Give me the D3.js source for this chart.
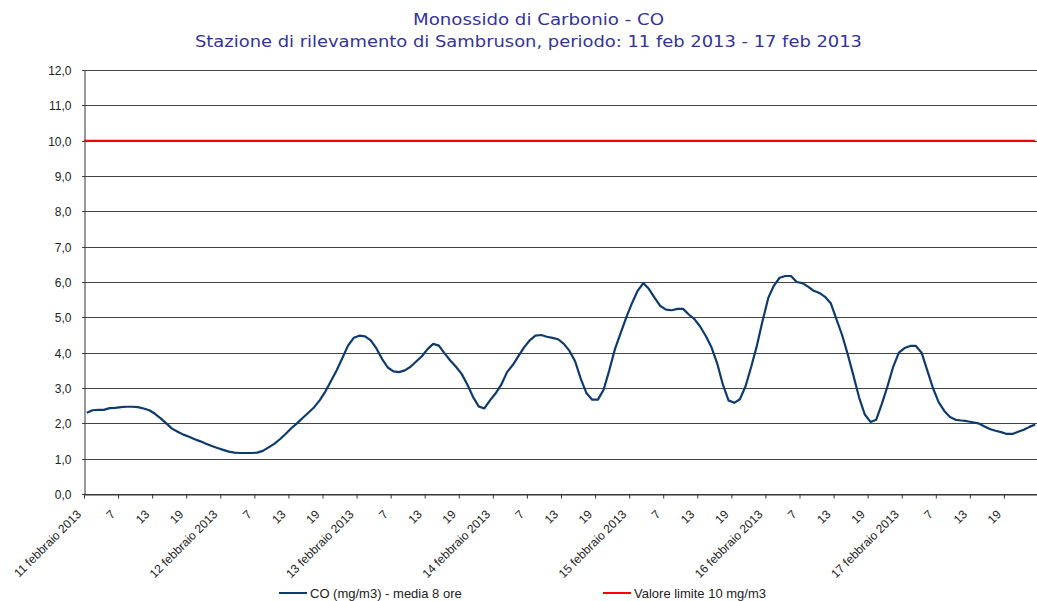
<!DOCTYPE html>
<html>
<head>
<meta charset="utf-8">
<script src="https://cdn.jsdelivr.net/npm/d3@7"></script>
<style>
  body { margin: 0; background: #fff; }
  svg { font-family: "Liberation Sans", Arial, sans-serif; }
  .title { font-family: "DejaVu Sans", sans-serif; fill: #333399; font-size: 16px; }
</style>
</head>
<body>
<script>
// days on the category axis
var days = ["11 febbraio 2013", "12 febbraio 2013", "13 febbraio 2013", "14 febbraio 2013",
            "15 febbraio 2013", "16 febbraio 2013", "17 febbraio 2013"];
var hourLabels = ["7", "13", "19"];

// CO (mg/m3) - media 8 ore, hourly values, 11 -> 17 feb
var coValues = [
  2.30, 2.37, 2.38, 2.38, 2.43, 2.44, 2.46, 2.47, 2.47, 2.46, 2.42, 2.37,
  2.27, 2.14, 2.00, 1.85, 1.76, 1.68, 1.62, 1.55, 1.49, 1.42, 1.36, 1.30,
  1.25, 1.20, 1.17, 1.16, 1.16, 1.16, 1.17, 1.22, 1.32, 1.42, 1.55, 1.70,
  1.86, 2.00, 2.15, 2.30, 2.45, 2.65, 2.90, 3.20, 3.50, 3.85, 4.20, 4.42,
  4.48, 4.46, 4.35, 4.12, 3.82, 3.58, 3.47, 3.45, 3.50, 3.60, 3.75, 3.90,
  4.10, 4.25, 4.20, 3.98, 3.78, 3.60, 3.40, 3.10, 2.75, 2.48, 2.42, 2.65,
  2.85, 3.10, 3.45, 3.65, 3.90, 4.15, 4.35, 4.48, 4.50, 4.45, 4.42, 4.38,
  4.25, 4.05, 3.75, 3.25, 2.85, 2.67, 2.67, 2.95, 3.50, 4.10, 4.55, 5.00,
  5.40, 5.75, 5.97, 5.80, 5.55, 5.32, 5.22, 5.20, 5.24, 5.24, 5.08, 4.95,
  4.74, 4.47, 4.15, 3.70, 3.10, 2.65, 2.58, 2.68, 3.05, 3.60, 4.20, 4.90,
  5.55, 5.90, 6.12, 6.17, 6.17, 6.00, 5.97, 5.87, 5.75, 5.69, 5.58, 5.40,
  4.95, 4.50, 3.95, 3.35, 2.73, 2.25, 2.04, 2.10, 2.55, 3.05, 3.60, 4.00,
  4.13, 4.19, 4.19, 4.00, 3.50, 3.00, 2.60, 2.35, 2.18, 2.10, 2.08, 2.06,
  2.03, 2.00, 1.92, 1.84, 1.79, 1.75, 1.70, 1.70, 1.76, 1.82, 1.90, 1.97
];
var limitValue = 10;
var yTicks = [0, 1, 2, 3, 4, 5, 6, 7, 8, 9, 10, 11, 12];

var W = 1037, H = 601;
var margin = { top: 70, right: 0, bottom: 107, left: 84 };
var nHours = coValues.length;

var svg = d3.select("body").append("svg")
    .attr("width", W)
    .attr("height", H);

var x = d3.scaleLinear().domain([0, nHours]).range([margin.left, 1038]);
var y = d3.scaleLinear().domain([0, 12]).range([H - margin.bottom, margin.top]);

// titles
svg.append("text").attr("class", "title")
    .attr("x", 413).attr("y", 25)
    .attr("textLength", 251).attr("lengthAdjust", "spacingAndGlyphs")
    .text("Monossido di Carbonio - CO");
svg.append("text").attr("class", "title")
    .attr("x", 195).attr("y", 47)
    .attr("textLength", 667).attr("lengthAdjust", "spacingAndGlyphs")
    .text("Stazione di rilevamento di Sambruson, periodo: 11 feb 2013 - 17 feb 2013");

// horizontal grid
svg.append("g")
    .selectAll("line")
    .data(yTicks)
    .enter().append("line")
    .attr("x1", margin.left - 2)
    .attr("x2", W)
    .attr("y1", function (d) { return Math.round(y(d)) + 0.5; })
    .attr("y2", function (d) { return Math.round(y(d)) + 0.5; })
    .style("stroke", "#444")
    .style("stroke-width", 1);

// Y axis
var yAxis = svg.append("g")
    .attr("transform", "translate(" + (margin.left + 0.5) + ",0.5)")
    .call(d3.axisLeft(y).tickValues(yTicks).tickSize(0).tickPadding(13)
        .tickFormat(function (d) { return d3.format(".1f")(d).replace(".", ","); }));
yAxis.select(".domain").style("stroke", "#333");
yAxis.selectAll("text").style("font-size", "12px").style("fill", "#222");

// X axis
var tickIdx = d3.range(0, nHours + 1, 6);
var xAxis = svg.append("g")
    .attr("transform", "translate(0," + (Math.round(y(0)) + 0.5) + ")")
    .call(d3.axisBottom(x).tickValues(tickIdx).tickSize(4).tickSizeOuter(0)
        .tickFormat(""));
xAxis.select(".domain").style("stroke", "#333");
xAxis.selectAll(".tick line").style("stroke", "#333");

var labelIdx = d3.range(0, nHours, 6);
svg.append("g").selectAll("text")
    .data(labelIdx)
    .enter().append("text")
    .attr("transform", function (d) {
        return "translate(" + (x(d) - 2) + "," + (y(0) + 21) + ") rotate(-45)";
    })
    .attr("text-anchor", "end")
    .style("font-size", "12px")
    .style("fill", "#222")
    .text(function (d) {
        var h = d % 24;
        return h === 0 ? days[d / 24] : hourLabels[h / 6 - 1];
    });

// limit line
svg.append("path")
    .datum(coValues.map(function () { return limitValue; }))
    .attr("fill", "none")
    .style("stroke", "#ff0000")
    .style("stroke-width", 2)
    .attr("d", d3.line()
        .x(function (d, i) { return x(i + 0.5); })
        .y(function (d) { return y(d); }));
svg.append("line")
    .attr("x1", margin.left).attr("x2", x(0.5))
    .attr("y1", y(limitValue)).attr("y2", y(limitValue))
    .style("stroke", "#ff0000").style("stroke-width", 2);

// CO line
svg.append("path")
    .datum(coValues)
    .attr("fill", "none")
    .style("stroke", "#0d3b6e")
    .style("stroke-width", 2.2)
    .style("stroke-linejoin", "round")
    .attr("d", d3.line()
        .x(function (d, i) { return x(i + 0.5); })
        .y(function (d) { return y(d); }));

// legend
var legend = [
    { label: "CO (mg/m3) - media 8 ore", color: "#0d3b6e", x: 279 },
    { label: "Valore limite 10 mg/m3", color: "#ff0000", x: 603 }
];
var lg = svg.append("g").selectAll("g")
    .data(legend)
    .enter().append("g")
    .attr("transform", function (d) { return "translate(" + d.x + ",593)"; });
lg.append("line")
    .attr("x1", 0).attr("x2", 28)
    .style("stroke", function (d) { return d.color; })
    .style("stroke-width", 2);
lg.append("text")
    .attr("x", 31).attr("y", 5)
    .style("font-size", "13px")
    .style("fill", "#222")
    .text(function (d) { return d.label; });
</script>
</body>
</html>
